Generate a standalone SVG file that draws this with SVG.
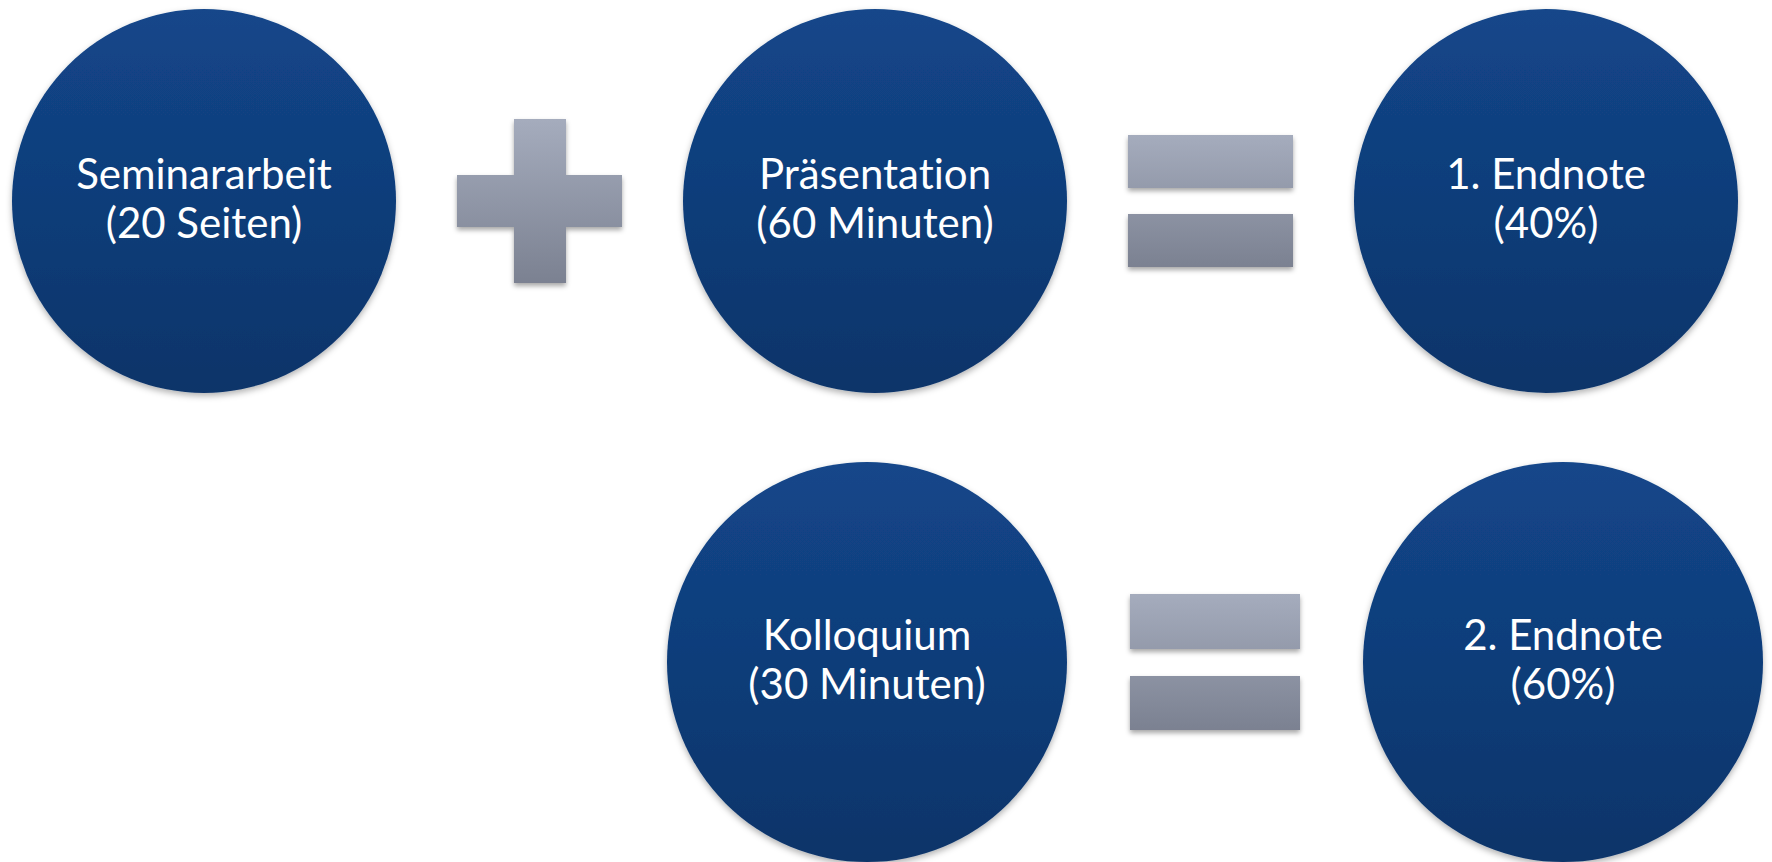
<svg xmlns="http://www.w3.org/2000/svg" width="1772" height="862" viewBox="0 0 1772 862">
<style>
.lbl{font-family:Lato,"Open Sans","DejaVu Sans",sans-serif;font-size:42px;fill:#ffffff;text-anchor:middle;font-variant-ligatures:none}
.node{fill:url(#blue);filter:url(#sh)}
.op{filter:url(#sh2)}
</style>
<defs>
<linearGradient id="blue" x1="0" y1="0" x2="0" y2="1">
<stop offset="0" stop-color="#13468A"/>
<stop offset="1" stop-color="#0C3469"/>
</linearGradient>
<linearGradient id="grey" gradientUnits="objectBoundingBox" x1="0" y1="0" x2="0" y2="1">
<stop offset="0" stop-color="#A5ACBD"/>
<stop offset="1" stop-color="#7B8191"/>
</linearGradient>
<filter id="sh" x="-10%" y="-10%" width="120%" height="125%">
<feDropShadow dx="0" dy="3" stdDeviation="3" flood-color="#000" flood-opacity="0.3"/>
</filter>
<filter id="sh2" x="-10%" y="-10%" width="120%" height="130%">
<feDropShadow dx="0" dy="3" stdDeviation="2.5" flood-color="#000" flood-opacity="0.35"/>
</filter>
</defs>
<rect width="1772" height="862" fill="#ffffff"/>
<g id="n-seminararbeit">
<circle class="node" cx="204" cy="201" r="192"/>
<text class="lbl" x="204" y="189">Seminararbeit</text>
<text class="lbl" x="204" y="238">(20 Seiten)</text>
</g>
<g id="n-praesentation">
<circle class="node" cx="875" cy="201" r="192"/>
<text class="lbl" x="875" y="189">Präsentation</text>
<text class="lbl" x="875" y="238">(60 Minuten)</text>
</g>
<g id="n-endnote1">
<circle class="node" cx="1546" cy="201" r="192"/>
<text class="lbl" x="1546" y="189">1. Endnote</text>
<text class="lbl" x="1546" y="238">(40%)</text>
</g>
<g id="n-kolloquium">
<circle class="node" cx="867" cy="662" r="200"/>
<text class="lbl" x="867" y="650">Kolloquium</text>
<text class="lbl" x="867" y="699">(30 Minuten)</text>
</g>
<g id="n-endnote2">
<circle class="node" cx="1563" cy="662" r="200"/>
<text class="lbl" x="1563" y="650">2. Endnote</text>
<text class="lbl" x="1563" y="699">(60%)</text>
</g>
<g id="connectors">
<path id="plus" class="op" fill="url(#grey)" d="M514,119 H566 V175 H622 V227 H566 V283 H514 V227 H457 V175 H514 Z"/>
<g id="equals1" class="op">
<path fill="url(#grey)" d="M1128,135 H1293 V188 H1128 Z M1128,214 H1293 V267 H1128 Z"/>
</g>
<g id="equals2" class="op">
<path fill="url(#grey)" d="M1130,594 H1300 V649 H1130 Z M1130,676 H1300 V730 H1130 Z"/>
</g>
</g>
</svg>
